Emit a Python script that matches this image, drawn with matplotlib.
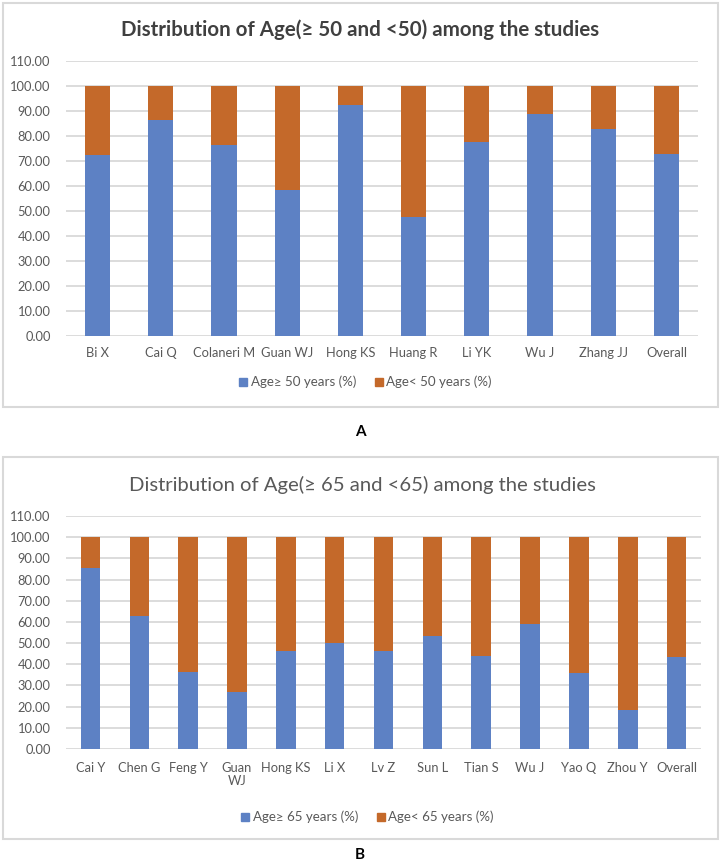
import matplotlib
matplotlib.use("Agg")
import matplotlib.pyplot as plt
from matplotlib.patches import Rectangle
from matplotlib.lines import Line2D

# ---------------- data ----------------
studies_a = ["Bi X", "Cai Q", "Colaneri M", "Guan WJ", "Hong KS", "Huang R",
             "Li YK", "Wu J", "Zhang JJ", "Overall"]
age_ge50 = [72.4, 86.3, 76.6, 58.4, 92.4, 47.7, 77.7, 89.0, 82.7, 72.9]
age_lt50 = [100 - v for v in age_ge50]

studies_b = ["Cai Y", "Chen G", "Feng Y", "Guan\nWJ", "Hong KS", "Li X", "Lv Z",
             "Sun L", "Tian S", "Wu J", "Yao Q", "Zhou Y", "Overall"]
age_ge65 = [85.6, 63.0, 36.3, 26.9, 46.1, 50.1, 46.1, 53.4, 43.7, 59.1, 35.9, 18.5, 43.2]
age_lt65 = [100 - v for v in age_ge65]

yticks = [0, 10, 20, 30, 40, 50, 60, 70, 80, 90, 100, 110]
title_a = "Distribution of Age(\u2265 50 and <50) among the studies"
title_b = "Distribution of Age(\u2265 65 and <65) among the studies"
legend_a = ["Age\u2265 50 years (%)", "Age< 50 years (%)"]
legend_b = ["Age\u2265 65 years (%)", "Age< 65 years (%)"]

BLUE = "#5D81C4"
ORANGE = "#C4692A"
GRID = "#D9D9D9"
TXT = "#595959"

plt.rcParams['font.family'] = ['Lato', 'DejaVu Sans']

W, H = 721, 861
fig = plt.figure(figsize=(W / 100, H / 100), dpi=100)


def px_axes(left, top, right, bottom):
    return fig.add_axes([left / W, 1 - bottom / H, (right - left) / W, (bottom - top) / H])


def frame(left, top, right, bottom):
    fig.patches.append(Rectangle((left / W, 1 - bottom / H), (right - left) / W, (bottom - top) / H,
                                 transform=fig.transFigure, fill=False, edgecolor=GRID, lw=1.5))


def panel(ax, cats, low, high, xpad):
    x = range(len(cats))
    ax.bar(x, low, width=0.4, color=BLUE, zorder=3)
    ax.bar(x, high, bottom=low, width=0.4, color=ORANGE, zorder=3)
    ax.set_xlim(-0.5, len(cats) - 0.5)
    ax.set_ylim(0, 110)
    ax.set_yticks(yticks)
    ax.set_yticklabels([f"{v:.2f}" for v in yticks])
    ax.set_xticks(list(x))
    ax.set_xticklabels(cats, linespacing=1.15)
    ax.yaxis.grid(True, color=GRID, lw=1.3, zorder=0)
    ax.set_axisbelow(True)
    for s in ax.spines.values():
        s.set_visible(False)
    ax.tick_params(axis='y', length=0, pad=11, labelsize=9.3, labelcolor=TXT)
    ax.tick_params(axis='x', length=0, pad=xpad, labelsize=9.3, labelcolor=TXT)


def legend(labels, cx, cy):
    handles = [Line2D([], [], marker='s', ls='', color=c, markersize=6) for c in (BLUE, ORANGE)]
    fig.legend(handles, labels, loc='center', bbox_to_anchor=(cx / W, 1 - cy / H), ncol=2,
               frameon=False, fontsize=9.6, handletextpad=0.05, columnspacing=1.2,
               handlelength=1.0, labelcolor=TXT)


# ---------------- panel A ----------------
frame(3, 3, 718, 407)
axA = px_axes(66, 61, 698, 336)
panel(axA, studies_a, age_ge50, age_lt50, 8)
fig.text(360 / W, 1 - 30 / H, title_a, ha='center', va='center', fontsize=14.8,
         fontweight='bold', color="#404040")
legend(legend_a, 364, 382)
fig.text(360 / W, 1 - 432 / H, "A", ha='center', va='center', fontsize=11,
         fontweight='bold', color='black')

# ---------------- panel B ----------------
frame(3, 457, 718, 839)
axB = px_axes(66, 516, 701, 749)
panel(axB, studies_b, age_ge65, age_lt65, 9)
fig.text(362 / W, 1 - 485 / H, title_b, ha='center', va='center', fontsize=14.6,
         color=TXT)
legend(legend_b, 366, 817)
fig.text(360 / W, 1 - 855 / H, "B", ha='center', va='center', fontsize=11,
         fontweight='bold', color='black')

fig.savefig("out.png", dpi=100, facecolor='white')
